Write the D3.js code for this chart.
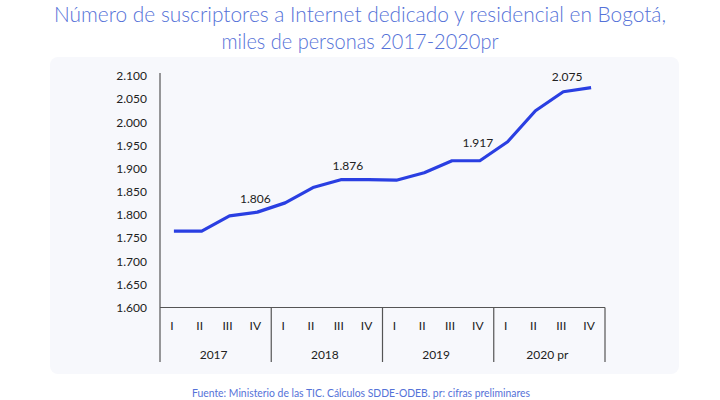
<!DOCTYPE html>
<html>
<head>
<meta charset="utf-8">
<script src="https://cdn.jsdelivr.net/npm/d3@7"></script>
<style>
  body { margin: 0; background: #fff; }
  text { font-family: Lato, "Noto Sans", sans-serif; }
</style>
</head>
<body>
<svg width="720" height="400"></svg>
<script>
// datos: suscriptores (miles) por trimestre
var quarters = ["I", "II", "III", "IV"];
var years = ["2017", "2018", "2019", "2020 pr"];
var values = [1765, 1765, 1798, 1806, 1826, 1859, 1876, 1876,
              1875, 1891, 1917, 1917, 1958, 2025, 2066, 2075];
var yTicks = [1600, 1650, 1700, 1750, 1800, 1850, 1900, 1950, 2000, 2050, 2100];
var labelIdx = [3, 6, 11, 15];

var titleLines = ["Número de suscriptores a Internet dedicado y residencial en Bogotá,",
                  "miles de personas 2017-2020pr"];
var source = "Fuente: Ministerio de las TIC. Cálculos SDDE-ODEB. pr: cifras preliminares";

var es = d3.formatLocale({decimal: ",", thousands: ".", grouping: [3], currency: ["$", ""]});
var fmt = es.format(",");

const svg = d3.select("svg");
const blue = "#2a3fe2";
const titleBlue = "#5572d8";

// panel de fondo
svg.append("rect")
  .attr("x", 50).attr("y", 57)
  .attr("width", 629).attr("height", 317)
  .attr("rx", 8)
  .attr("fill", "#f7f8fc");

// titulo
svg.selectAll(".title").data(titleLines).enter()
  .append("text")
  .attr("class", "title")
  .attr("x", 360)
  .attr("y", (d, i) => 22 + i * 27)
  .attr("text-anchor", "middle")
  .attr("font-size", 21)
  .attr("font-weight", 300)
  .attr("fill", titleBlue)
  .attr("textLength", (d, i) => i == 0 ? 612 : 277)
  .attr("lengthAdjust", "spacingAndGlyphs")
  .text(d => d);

const x0 = 160, x1 = 605, yBase = 307.5;

const x = d3.scaleBand()
  .domain(d3.range(values.length))
  .range([x0, x1]);

const y = d3.scaleLinear()
  .domain([1600, 2100])
  .range([yBase, 76]);

// eje y (solo etiquetas)
const yAxis = d3.axisLeft(y)
  .tickValues(yTicks)
  .tickSize(0)
  .tickPadding(0)
  .tickFormat(fmt);

const yAxisG = svg.append("g")
  .attr("transform", "translate(147,0)")
  .call(yAxis);
yAxisG.select(".domain").remove();
yAxisG.selectAll("text")
  .attr("font-size", 12)
  .attr("fill", "#222")
  .style("font-family", "Lato, sans-serif");

// lineas de los ejes
svg.append("line")
  .attr("x1", x0).attr("x2", x0)
  .attr("y1", 73).attr("y2", 362)
  .attr("stroke", "#555").attr("stroke-width", 1.2);
svg.append("line")
  .attr("x1", x0).attr("x2", x1)
  .attr("y1", yBase).attr("y2", yBase)
  .attr("stroke", "#555").attr("stroke-width", 1.2);

// separadores de año
const yearW = (x1 - x0) / years.length;
svg.selectAll(".sep").data(years).enter()
  .append("line")
  .attr("class", "sep")
  .attr("x1", (d, i) => x0 + (i + 1) * yearW)
  .attr("x2", (d, i) => x0 + (i + 1) * yearW)
  .attr("y1", yBase).attr("y2", 362)
  .attr("stroke", "#555").attr("stroke-width", 1.2);

// etiquetas de trimestre
svg.selectAll(".q").data(values).enter()
  .append("text")
  .attr("class", "q")
  .attr("x", (d, i) => x(i) + x.bandwidth() / 2 - 2)
  .attr("y", 330)
  .attr("text-anchor", "middle")
  .attr("font-size", 12)
  .attr("fill", "#222")
  .text((d, i) => quarters[i % 4]);

// etiquetas de año
svg.selectAll(".yr").data(years).enter()
  .append("text")
  .attr("class", "yr")
  .attr("x", (d, i) => x0 + (i + 0.5) * yearW - 2)
  .attr("y", 359)
  .attr("text-anchor", "middle")
  .attr("font-size", 12)
  .attr("fill", "#222")
  .text(d => d);

// linea
const line = d3.line()
  .x((d, i) => x(i) + x.bandwidth() / 2)
  .y(d => y(d));

svg.append("path")
  .datum(values)
  .attr("d", line)
  .attr("fill", "none")
  .attr("stroke", blue)
  .attr("stroke-width", 3.2)
  .attr("stroke-linejoin", "round");

// etiquetas de valor
const labelDx = {3: -2, 6: 7, 11: -2, 15: -24};
const labelDy = {3: -9, 6: -10, 11: -14, 15: -7};
svg.selectAll(".vl").data(labelIdx).enter()
  .append("text")
  .attr("class", "vl")
  .attr("x", i => x(i) + x.bandwidth() / 2 + labelDx[i])
  .attr("y", i => y(values[i]) + labelDy[i])
  .attr("text-anchor", "middle")
  .attr("font-size", 12)
  .attr("fill", "#222")
  .text(i => fmt(values[i]));

// fuente
svg.append("text")
  .attr("x", 361)
  .attr("y", 397)
  .attr("text-anchor", "middle")
  .attr("font-size", 11)
  .attr("fill", titleBlue)
  .attr("textLength", 338)
  .attr("lengthAdjust", "spacingAndGlyphs")
  .text(source);
</script>
</body>
</html>
